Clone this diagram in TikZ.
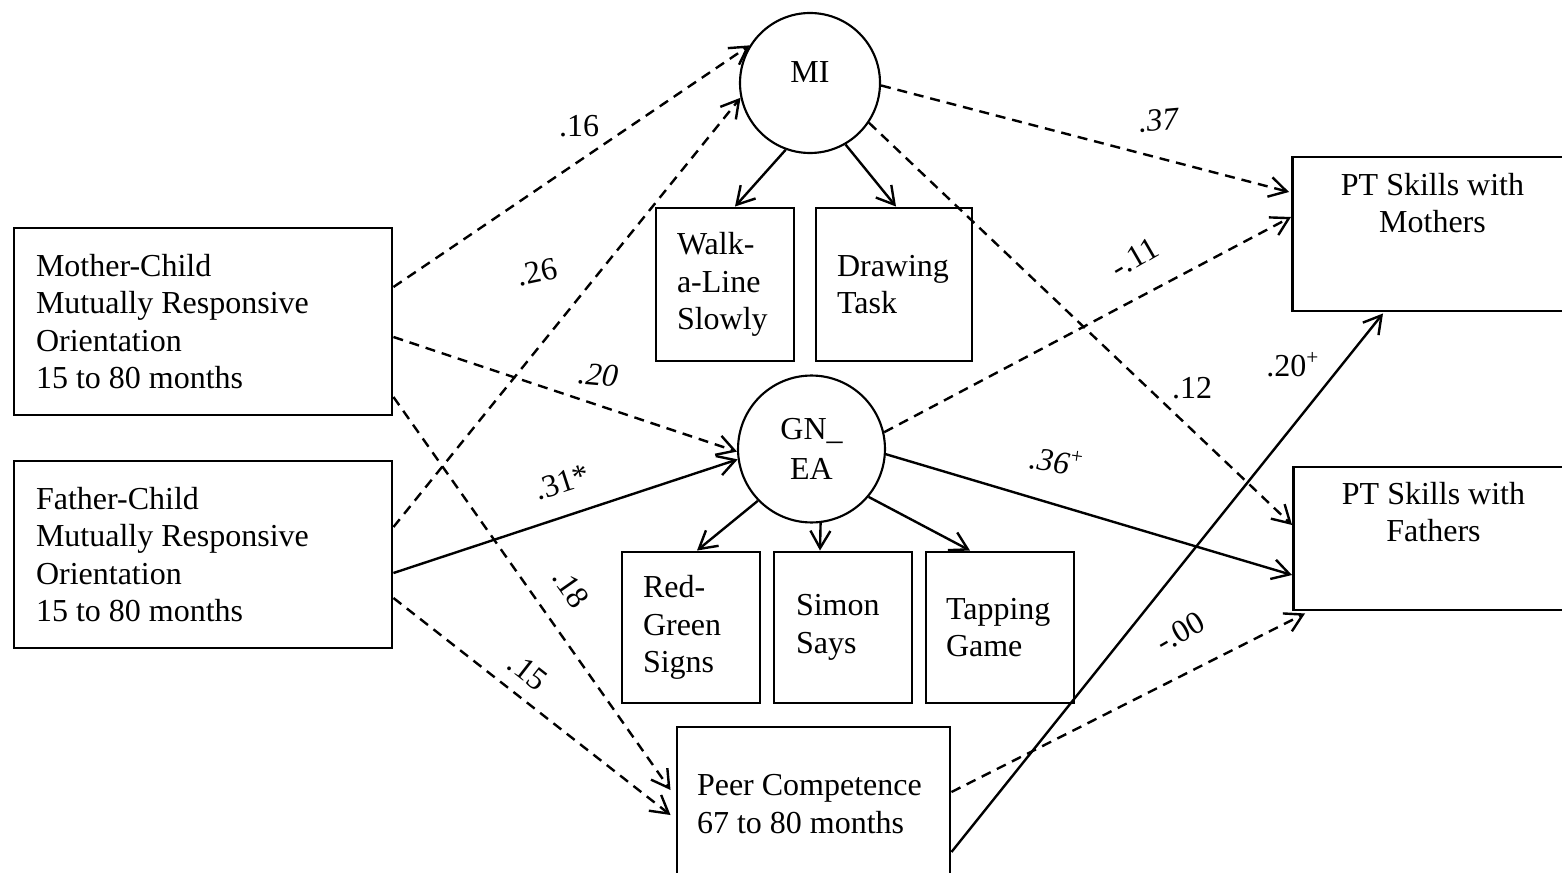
\documentclass[tikz,border=0pt]{standalone}
\usepackage{fontspec}
\setmainfont{Liberation Serif}
\usetikzlibrary{arrows.meta,calc}
\begin{document}
\begin{tikzpicture}[x=0.375pt,y=-0.375pt,
  every node/.style={font=\fontsize{12}{14}\selectfont},
  box/.style={draw, line width=1.1pt, rectangle, inner ysep=0pt, align=flush left},
  latent/.style={draw, circle, line width=0.8pt, inner sep=0pt},
  arr/.style={line width=0.9pt, -{Straight Barb[length=6.5pt,width=7.5pt,line width=0.9pt]}},
  dasharr/.style={arr, dash pattern=on 3.75pt off 2.6pt},
  lab/.style={inner sep=0pt},
]
\clip (0,0) rectangle (1562,873);

% observed and latent variables
\node[box, minimum width=141.75pt, minimum height=70.125pt, text width=125.25pt, inner xsep=8.25pt] (mc) at (203,321.5) {Mother-Child\\Mutually Responsive\\Orientation\\15 to 80 months};
\node[box, minimum width=141.75pt, minimum height=70.125pt, text width=125.25pt, inner xsep=8.25pt] (fc) at (203,554.5) {Father-Child\\Mutually Responsive\\Orientation\\15 to 80 months};
\node[latent, minimum size=52.5pt, text height=8pt, text depth=8pt] (mi) at (810,83) {MI};
\node[latent, minimum size=55.1pt, align=flush center] (gn) at (811.5,449) {GN\_\\[1pt]EA};
\node[box, minimum width=51.75pt, minimum height=57.375pt, text width=36pt, inner xsep=7.875pt] (walk) at (725,284.5) {Walk-\\a-Line\\Slowly};
\node[box, minimum width=58.5pt, minimum height=57.375pt, text width=42.75pt, inner xsep=7.875pt] (drw) at (894,284.5) {Drawing\\Task};
\node[box, minimum width=51.75pt, minimum height=56.625pt, text width=36pt, inner xsep=7.875pt] (rg) at (691,627.5) {Red-\\Green\\Signs};
\node[box, minimum width=51.75pt, minimum height=56.625pt, text width=35.25pt, inner xsep=8.25pt] (ss) at (843,627.5) {Simon\\Says};
\node[box, minimum width=55.5pt, minimum height=56.625pt, text width=40.5pt, inner xsep=7.5pt] (tg) at (1000,627.5) {Tapping\\Game};
\node[box, minimum width=102.375pt, minimum height=57.75pt, text width=87.375pt, inner xsep=7.5pt] (pc) at (813.5,804) {Peer Competence\\67 to 80 months};
\node[box, minimum width=105pt, minimum height=57.75pt] (ptm) at (1432.5,234) {};
\node[box, minimum width=105pt, minimum height=53.625pt] (ptf) at (1433.5,538.5) {};
\node[lab, anchor=north, align=flush center] (ptmt) at ($(ptm.north)+(0,17)$) {PT Skills with\\Mothers};
\node[lab, anchor=north, align=flush center] (ptft) at ($(ptf.north)+(0,16)$) {PT Skills with\\Fathers};

% structural paths
\draw[dasharr] ($(mc.east)+(0,-34.5)$) -- (mi.148);
\draw[dasharr] ($(fc.east)+(0,-27.5)$) -- (mi.192);
\draw[dasharr] ($(mc.east)+(0,15.5)$) -- (gn.182);
\draw[arr] ($(fc.east)+(0,18.5)$) -- (gn.188);
\draw[dasharr] ($(mc.east)+(0,75.5)$) -- ($(pc.west)+(-5,-14)$);
\draw[dasharr] ($(fc.east)+(0,43.5)$) -- ($(pc.west)+(-5,11)$);
\draw[dasharr] (mi.-2) -- ($(ptm.west)+(-2,-42)$);
\draw[dasharr] (mi.-34) -- ($(ptf.west)+(0,-13.5)$);
\draw[dasharr] (gn.13) -- ($(ptm.west)+(0,-17)$);
\draw[arr] (gn.-4) -- ($(ptf.west)+(0,36.5)$);
\draw[arr] ($(pc.east)+(0,48)$) -- ($(ptm.south)+(-49.5,1)$);
\draw[dasharr] ($(pc.east)+(0,-12)$) -- ($(ptf.south)+(-128.5,2)$);

% measurement paths
\draw[arr] (mi.-110) -- ($(walk.north)+(10,0)$);
\draw[arr] (mi.-60) -- ($(drw.north)+(2,0)$);
\draw[arr] (gn.-136) -- ($(rg.north)+(6,0)$);
\draw[arr] (gn.-83) -- ($(ss.north)+(-23,0)$);
\draw[arr] (gn.-40) -- ($(tg.north)+(-30,0)$);

% coefficients
\node[lab] (l1) at (579,126) {.16};
\node[lab, rotate=12] (l2) at (537,272) {.26};
\node[lab, rotate=-5] (l3) at (598,375) {\textit{.20}};
\node[lab, rotate=18] (l4) at (562,482) {.31*};
\node[lab, rotate=-55] (l5) at (571,588) {.18};
\node[lab, rotate=-38] (l6) at (528,672) {.15};
\node[lab, rotate=5] (l7) at (1159,120) {\textit{.37}};
\node[lab] (l8) at (1192,388) {.12};
\node[lab, rotate=30] (l9) at (1135,258) {-.11};
\node[lab, rotate=-8] (l10) at (1057,461) {\textit{.36}\textsuperscript{+}};
\node[lab] (l11) at (1293,365) {.20\textsuperscript{+}};
\node[lab, rotate=30] (l12) at (1180,632) {-.00};
\end{tikzpicture}
\end{document}
